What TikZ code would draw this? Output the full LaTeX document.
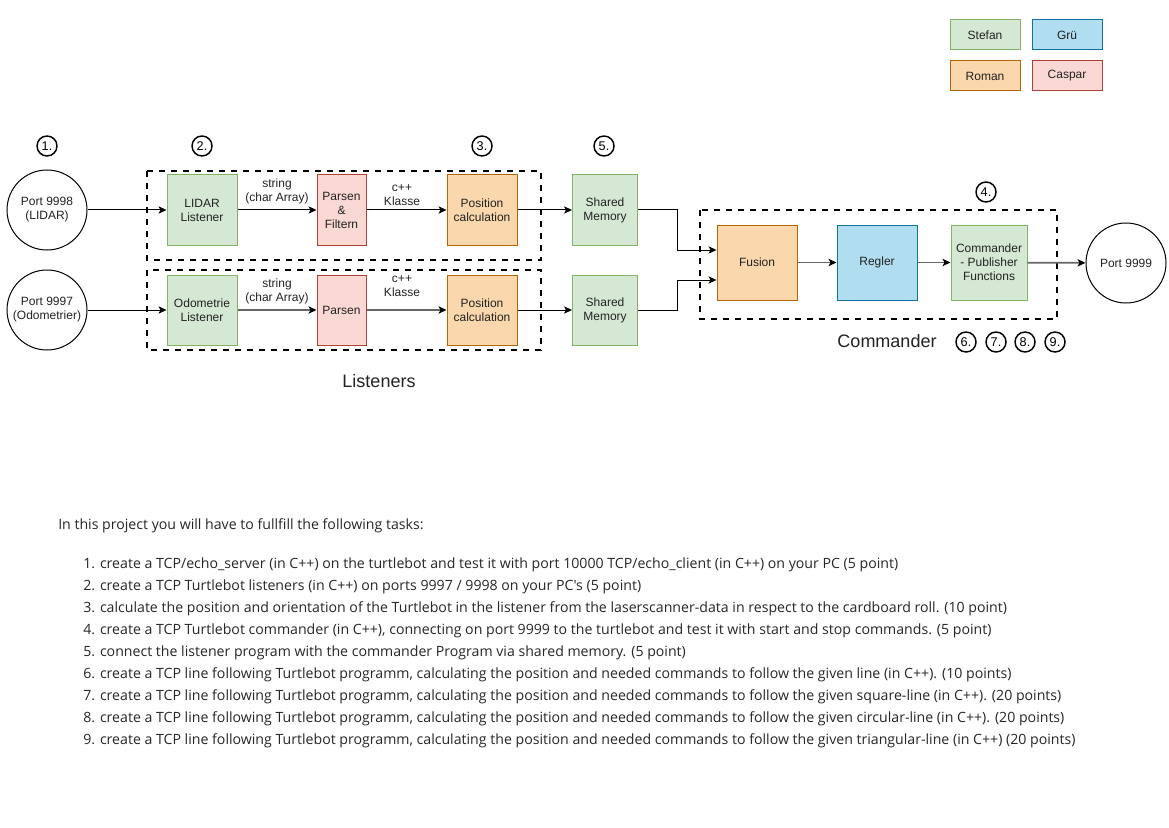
\documentclass[tikz,border=0pt]{standalone}
\usepackage{fontspec}
\setmainfont{Liberation Sans}
\newfontfamily\textfam{Open Sans}
\usetikzlibrary{arrows.meta,positioning}
\definecolor{gfill}{HTML}{D5E8D4}\definecolor{gdraw}{HTML}{82B366}
\definecolor{bfill}{HTML}{B1DDF0}\definecolor{bdraw}{HTML}{10739E}
\definecolor{ofill}{HTML}{FAD7AC}\definecolor{odraw}{HTML}{B46504}
\definecolor{rfill}{HTML}{FAD9D5}\definecolor{rdraw}{HTML}{AE4132}
\definecolor{txt}{HTML}{222222}
\tikzset{
  box/.style={rectangle,draw,line width=0.75pt,align=center,text=txt,inner sep=1pt,
    font=\fontsize{9}{10.5}\selectfont},
  gbox/.style={box,fill=gfill,draw=gdraw},
  bbox/.style={box,fill=bfill,draw=bdraw},
  obox/.style={box,fill=ofill,draw=odraw},
  rbox/.style={box,fill=rfill,draw=rdraw},
  port/.style={circle,draw,line width=0.75pt,minimum size=60pt,align=center,text=txt,inner sep=0pt,
    font=\fontsize{9}{10.5}\selectfont},
  numc/.style={circle,draw,line width=1.1pt,minimum size=15pt,inner sep=0pt,
    font=\fontsize{9.5}{10}\selectfont},
  dashbox/.style={draw,line width=1.5pt,dash pattern=on 4.5pt off 4.5pt},
  arr/.style={line width=0.75pt,-{Stealth[length=6pt,width=5.5pt,inset=1.5pt]}},
  garr/.style={line width=1.3pt,draw=black!60,-{Stealth[length=6pt,width=5.5pt,inset=1.5pt,black]}},
  elab/.style={align=center,font=\fontsize{9}{10.5}\selectfont,text=txt,inner sep=0pt},
  grouplab/.style={font=\fontsize{13.5}{15}\selectfont,text=txt},
  item/.style={anchor=base west,inner sep=0pt,font=\textfam\fontsize{10.6}{12}\selectfont,text=black!85}
}
\begin{document}
\begin{tikzpicture}[x=0.75pt,y=-0.75pt]
\useasboundingbox (0,0) rectangle (1169,827);
% legend
\node[gbox,minimum width=52.5pt,minimum height=22.5pt] (stefan) at (985,35) {Stefan};
\node[bbox,minimum width=52.5pt,minimum height=22.5pt] (gru) at (1067,35) {Grü};
\node[obox,minimum width=52.5pt,minimum height=22.5pt] (roman) at (985,76) {Roman};
\node[rbox,minimum width=52.5pt,minimum height=22.5pt] (caspar) at (1067,76) {Caspar};
% dashed groups
\draw[dashbox] (147,171) rectangle (541,260);
\draw[dashbox] (147,270) rectangle (541,350);
\draw[dashbox] (700,210) rectangle (1057,319);
% ports
\node[port] (p98) at (47,210) {Port 9998\\(LIDAR)};
\node[port] (p97) at (47,310) {Port 9997\\(Odometrier)};
\node[port] (p99) at (1126,263) {Port 9999};
% row 1
\node[gbox,minimum width=52.5pt,minimum height=52.5pt] (lidar) at (202,210) {LIDAR\\Listener};
\node[rbox,minimum width=36.75pt,minimum height=52.5pt] (parsf) at (341.5,210) {Parsen\\\&\\Filtern};
\node[obox,minimum width=52.5pt,minimum height=52.5pt] (pos1) at (482,210) {Position\\calculation};
\node[gbox,minimum width=48.75pt,minimum height=52.5pt] (shm1) at (605,210) {Shared\\Memory};
% row 2
\node[gbox,minimum width=52.5pt,minimum height=52.5pt] (odo) at (202,310) {Odometrie\\Listener};
\node[rbox,minimum width=36.75pt,minimum height=52.5pt] (pars) at (341.5,310) {Parsen};
\node[obox,minimum width=52.5pt,minimum height=52.5pt] (pos2) at (482,310) {Position\\calculation};
\node[gbox,minimum width=48.75pt,minimum height=52.5pt] (shm2) at (605,310) {Shared\\Memory};
% commander
\node[obox,minimum width=60pt,minimum height=56.25pt] (fusion) at (757,262.5) {Fusion};
\node[bbox,minimum width=60pt,minimum height=56.25pt] (regler) at (877,262.5) {Regler};
\node[gbox,minimum width=57pt,minimum height=56.25pt] (cmdpub) at (989,262.5) {Commander\\- Publisher\\Functions};
% circled numbers
\node[numc] (n1) at (47,146) {1.};
\node[numc] (n2) at (202,146) {2.};
\node[numc] (n3) at (482,146) {3.};
\node[numc] (n5) at (604,146) {5.};
\node[numc] (n4) at (986,192) {4.};
\node[numc] (n6) at (966,342) {6.};
\node[numc] (n7) at (996,342) {7.};
\node[numc] (n8) at (1025,342) {8.};
\node[numc] (n9) at (1055,342) {9.};
% group labels
\node[grouplab] (cmdlab) at (887,341) {Commander};
\node[grouplab] (lstlab) at (379,381) {Listeners};
% edge labels
\node[elab] (l1) at (277,191) {string\\(char Array)};
\node[elab] (l2) at (402,195) {c++\\Klasse};
\node[elab] (l3) at (277,291) {string\\(char Array)};
\node[elab] (l4) at (402,286) {c++\\Klasse};
% connectors
\draw[arr] (p98) -- (lidar);
\draw[arr] (lidar) -- (parsf);
\draw[arr] (parsf) -- (pos1);
\draw[arr] (pos1) -- (shm1);
\draw[arr] (p97) -- (odo);
\draw[garr] (odo) -- (pars);
\draw[garr] (pars) -- (pos2);
\draw[arr] (pos2) -- (shm2);
\draw[arr] (shm1.east) -| (677,250) -- (fusion.west |- 0,250);
\draw[arr] (shm2.east) -| (677,280) -- (fusion.west |- 0,280);
\draw[garr] (fusion) -- (regler);
\draw[garr] (regler) -- (cmdpub);
\draw[garr] (cmdpub) -- (p99);
% task text
\node[item] (intro) at (58,529) {In this project you will have to fullfill the following tasks:};
\node[item] (t1) at (83,568) {1. create a TCP/echo\_server (in C++) on the turtlebot and test it with port 10000 TCP/echo\_client (in C++) on your PC (5 point)};
\node[item] (t2) at (83,590) {2. create a TCP Turtlebot listeners (in C++) on ports 9997 / 9998 on your PC's (5 point)};
\node[item] (t3) at (83,612) {3. calculate the position and orientation of the Turtlebot in the listener from the laserscanner-data in respect to the cardboard roll. (10 point)};
\node[item] (t4) at (83,634) {4. create a TCP Turtlebot commander (in C++), connecting on port 9999 to the turtlebot and test it with start and stop commands. (5 point)};
\node[item] (t5) at (83,656) {5. connect the listener program with the commander Program via shared memory. (5 point)};
\node[item] (t6) at (83,678) {6. create a TCP line following Turtlebot programm, calculating the position and needed commands to follow the given line (in C++). (10 points)};
\node[item] (t7) at (83,700) {7. create a TCP line following Turtlebot programm, calculating the position and needed commands to follow the given square-line (in C++). (20 points)};
\node[item] (t8) at (83,722) {8. create a TCP line following Turtlebot programm, calculating the position and needed commands to follow the given circular-line (in C++). (20 points)};
\node[item] (t9) at (83,744) {9. create a TCP line following Turtlebot programm, calculating the position and needed commands to follow the given triangular-line (in C++) (20 points)};
\end{tikzpicture}
\end{document}
